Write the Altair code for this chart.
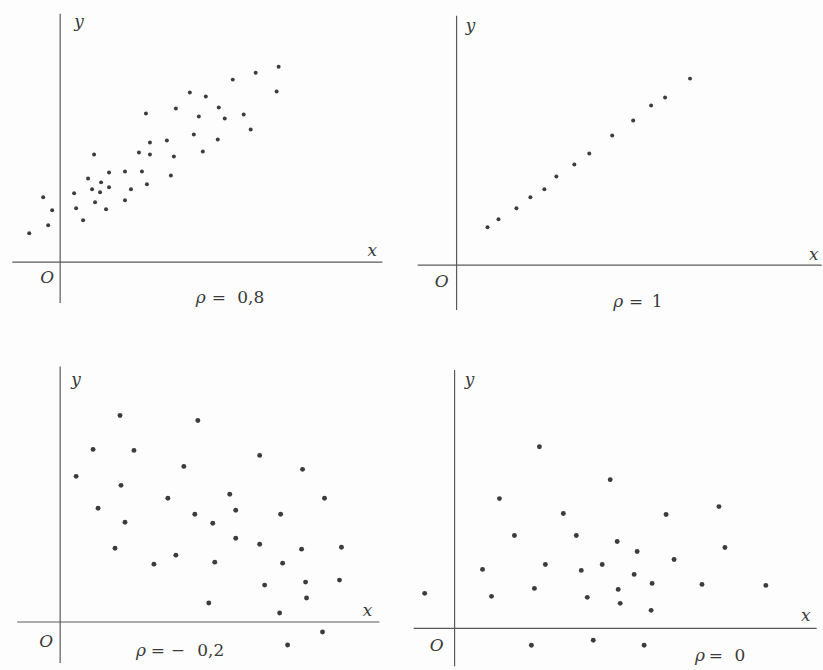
import altair as alt
import pandas as pd

# ---------------------------------------------------------------------------
# Scatter data for the four correlation examples (units: 1 unit = 10 px)
# ---------------------------------------------------------------------------
p1_x = [-3.1, -1.7, -0.8, -1.2, 1.4, 1.6, 2.3, 3.4, 2.8, 3.2, 3.5, 4.1, 4.0,
        4.9, 4.9, 4.6, 6.5, 7.1, 6.5, 7.9, 8.2, 8.7, 8.6, 9.0, 9.0, 10.7,
        11.4, 11.1, 11.6, 13.0, 13.4, 13.9, 14.3, 14.6, 15.9, 16.5, 15.8,
        17.3, 18.4, 19.1, 19.6, 21.9, 21.7]
p1_y = [2.9, 6.5, 5.2, 3.7, 6.9, 5.4, 4.2, 10.8, 8.4, 7.3, 6.0, 8.0, 7.0,
        9.0, 7.5, 5.3, 9.1, 7.3, 6.2, 11.0, 9.1, 7.8, 14.9, 12.0, 10.8, 12.2,
        10.6, 8.7, 15.4, 17.0, 12.8, 14.6, 11.1, 16.6, 15.5, 14.4, 12.3,
        18.3, 14.8, 13.3, 19.0, 19.6, 17.1]

p2_x = [3.1, 4.2, 6.0, 7.4, 8.8, 10.0, 11.8, 13.3, 15.6, 17.7, 19.5, 20.9, 23.4]
p2_y = [3.8, 4.6, 5.7, 6.8, 7.6, 8.9, 10.1, 11.2, 13.0, 14.5, 16.0, 16.8, 18.7]

p3_x = [1.6, 3.3, 6.0, 7.4, 6.1, 3.8, 6.5, 5.5, 9.4, 11.6, 10.8, 12.4, 13.8,
        13.5, 15.3, 15.5, 14.9, 17.0, 17.6, 17.6, 20.0, 20.0, 20.5, 22.1,
        22.3, 22.0, 22.8, 24.3, 24.2, 24.6, 24.7, 26.3, 26.5, 28.2, 28.0]
p3_y = [14.6, 17.3, 20.7, 17.2, 13.7, 11.4, 10.0, 7.4, 5.8, 6.7, 12.4, 15.6,
        20.2, 10.8, 9.9, 6.0, 1.9, 12.8, 11.2, 8.4, 16.7, 7.8, 3.7, 10.8,
        5.9, 0.9, -2.3, 15.3, 7.3, 4.0, 2.4, -1.0, 12.4, 7.5, 4.2]

p4_x = [-3.0, 2.8, 3.7, 4.5, 6.0, 8.5, 7.7, 8.0, 9.1, 10.9, 12.2, 12.7, 13.3,
        13.9, 14.8, 15.6, 16.3, 16.4, 16.6, 18.0, 18.3, 19.0, 19.7, 19.8,
        21.2, 22.0, 24.8, 26.5, 27.1, 31.2]
p4_y = [3.5, 5.9, 3.2, 13.0, 9.3, 18.2, -1.7, 4.0, 6.4, 11.5, 9.3, 5.8, 3.1,
        -1.2, 6.4, 14.9, 8.7, 3.9, 2.5, 5.4, 7.7, -1.7, 1.8, 4.5, 11.4, 6.9,
        4.4, 12.2, 8.1, 4.3]

# Correlation captions, split into pieces so the spacing can follow the typesetting
rho_texts = [["ρ", "=", "0,8"], ["ρ", "=", "1"], ["ρ", "=", "−", "0,2"], ["ρ", "=", "0"]]
rho_xs = [[14.1, 15.9, 19.1], [16.2, 18.0, 20.1], [8.1, 9.8, 11.8, 15.1], [24.6, 26.2, 28.6]]
rho_ys = [-4.1, -4.2, -3.4, -3.3]

# ---------------------------------------------------------------------------
# Panel geometry: cell size (px), origin inside the cell (px), axis extents
# ---------------------------------------------------------------------------
PX = 10.0
panels = [
    dict(w=410, h=320, ox=60.3, oy=262.0, xa=(-4.8, 32.3), ya=(-4.1, 24.9),
         ylab=(1.9, 23.6), xlab=(31.3, 0.6), olab=(-1.3, -2.1), dot=16),
    dict(w=413, h=320, ox=47.7, oy=265.0, xa=(-3.9, 36.6), ya=(-4.5, 25.0),
         ylab=(1.4, 23.5), xlab=(35.8, 0.5), olab=(-1.5, -2.2), dot=16),
    dict(w=410, h=350, ox=60.3, oy=302.7, xa=(-4.3, 32.0), ya=(-4.1, 25.6),
         ylab=(1.6, 23.8), xlab=(30.8, 0.6), olab=(-1.4, -2.5), dot=24),
    dict(w=413, h=350, ox=45.7, oy=309.0, xa=(-4.1, 36.3), ya=(-3.8, 25.9),
         ylab=(1.5, 24.4), xlab=(35.2, 0.7), olab=(-1.8, -2.3), dot=24),
]
series = [(p1_x, p1_y), (p2_x, p2_y), (p3_x, p3_y), (p4_x, p4_y)]

FONT = "DejaVu Serif"
INK = "#2b2b2b"
LINE = "#5a5a5a"


def panel(i):
    g = panels[i]
    xs, ys = series[i]
    xdom = [-g["ox"] / PX, (g["w"] - g["ox"]) / PX]
    ydom = [(g["oy"] - g["h"]) / PX, g["oy"] / PX]
    xsc = alt.Scale(domain=xdom, nice=False, zero=False)
    ysc = alt.Scale(domain=ydom, nice=False, zero=False)

    axes_df = pd.DataFrame({
        "x1": [g["xa"][0], 0.0], "x2": [g["xa"][1], 0.0],
        "y1": [0.0, g["ya"][0]], "y2": [0.0, g["ya"][1]],
    })
    axes = alt.Chart(axes_df).mark_rule(color=LINE, strokeWidth=1.2).encode(
        x=alt.X("x1:Q", scale=xsc, axis=None), x2="x2:Q",
        y=alt.Y("y1:Q", scale=ysc, axis=None), y2="y2:Q",
    )

    pts = alt.Chart(pd.DataFrame({"x": xs, "y": ys})).mark_circle(
        size=g["dot"], color=INK, opacity=0.92
    ).encode(
        x=alt.X("x:Q", scale=xsc, axis=None),
        y=alt.Y("y:Q", scale=ysc, axis=None),
    )

    # italic letters: axis names and the origin, plus rho
    ital_df = pd.DataFrame({
        "x": [g["ylab"][0], g["xlab"][0], g["olab"][0], rho_xs[i][0]],
        "y": [g["ylab"][1], g["xlab"][1], g["olab"][1], rho_ys[i]],
        "t": ["y", "x", "O", rho_texts[i][0]],
    })
    ital = alt.Chart(ital_df).mark_text(
        font=FONT, fontSize=17, fontStyle="italic", color="#3a3a3a",
        align="center", baseline="alphabetic",
    ).encode(
        x=alt.X("x:Q", scale=xsc, axis=None),
        y=alt.Y("y:Q", scale=ysc, axis=None),
        text="t:N",
    )

    roman_df = pd.DataFrame({
        "x": rho_xs[i][1:],
        "y": [rho_ys[i]] * (len(rho_xs[i]) - 1),
        "t": rho_texts[i][1:],
    })
    roman = alt.Chart(roman_df).mark_text(
        font=FONT, fontSize=17, color="#3a3a3a",
        align="center", baseline="alphabetic",
    ).encode(
        x=alt.X("x:Q", scale=xsc, axis=None),
        y=alt.Y("y:Q", scale=ysc, axis=None),
        text="t:N",
    )

    return alt.layer(axes, pts, ital, roman).properties(width=g["w"], height=g["h"])


top = alt.hconcat(panel(0), panel(1), spacing=0)
bottom = alt.hconcat(panel(2), panel(3), spacing=0)

chart = alt.vconcat(top, bottom, spacing=0).properties(
    padding=0, background="#fdfdfd"
).configure_view(stroke=None).configure_concat(spacing=0)

chart.save("out.html", embed_options={"renderer": "svg", "actions": False})
